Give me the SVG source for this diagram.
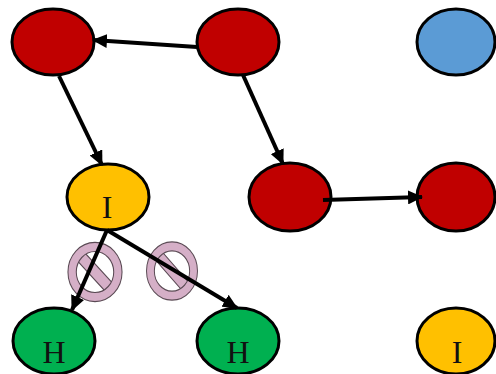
<svg xmlns="http://www.w3.org/2000/svg" xmlns:xlink="http://www.w3.org/1999/xlink" width="496" height="374" viewBox="0 0 496 374">
<style>
.node{stroke:#000;stroke-width:3}
.red{fill:#c00000}
.blue{fill:#5b9bd5}
.yellow{fill:#ffc000}
.green{fill:#00b050}
.lbl{font-family:"Liberation Serif","Times New Roman",serif;font-size:32px;fill:#111;text-anchor:middle}
.edge{stroke:#000;stroke-width:4;fill:none;marker-end:url(#arr)}
.no{fill:#d5afc7;stroke:#5a4a54;stroke-width:1}
</style>
<defs>
<marker id="arr" markerUnits="userSpaceOnUse" markerWidth="15" markerHeight="14" refX="14" refY="7" orient="auto">
<path d="M0,0 L15,7 L0,14 Z" fill="#000"/>
</marker>
<g id="nosign">
<rect class="no" x="-20" y="-5" width="40" height="10" transform="rotate(45)"/>
<path class="no" fill-rule="evenodd" d="M-26,0a26,26 0 1,0 52,0a26,26 0 1,0 -52,0Z M-18,0a18,18 0 1,0 36,0a18,18 0 1,0 -36,0Z"/>
</g>
</defs>
<rect width="496" height="374" fill="#fff"/>
<g id="n-red-tl"><ellipse class="node red" cx="53" cy="42" rx="41" ry="33"/></g>
<g id="n-red-tm"><ellipse class="node red" cx="238" cy="42" rx="41" ry="33"/></g>
<g id="n-blue"><ellipse class="node blue" cx="456" cy="42" rx="39" ry="33"/></g>
<g id="n-yellow-m"><ellipse class="node yellow" cx="108" cy="197" rx="41" ry="33"/><text class="lbl" x="107" y="218">I</text></g>
<g id="n-red-mm"><ellipse class="node red" cx="290" cy="197" rx="41" ry="34"/></g>
<g id="n-red-mr"><ellipse class="node red" cx="456" cy="197" rx="39" ry="34"/></g>
<g id="n-green-l"><ellipse class="node green" cx="54" cy="341" rx="41" ry="33"/><text class="lbl" x="54" y="363">H</text></g>
<g id="n-green-r"><ellipse class="node green" cx="238" cy="341" rx="41" ry="33"/><text class="lbl" x="238" y="363">H</text></g>
<g id="n-yellow-br"><ellipse class="node yellow" cx="456" cy="341" rx="39" ry="33"/><text class="lbl" x="457" y="363">I</text></g>
<g id="blocks">
<use xlink:href="#nosign" transform="translate(95,272) scale(1.04,1.14)"/>
<use xlink:href="#nosign" transform="translate(172,271) scale(0.98,1.12)"/>
</g>
<g id="connectors">
<line class="edge" x1="197" y1="47" x2="93" y2="40"/>
<line class="edge" x1="59" y1="76" x2="102" y2="165"/>
<line class="edge" x1="243" y1="75" x2="283" y2="164"/>
<line class="edge" x1="323" y1="200" x2="422" y2="197"/>
<line class="edge" x1="107" y1="230" x2="72" y2="310"/>
<line class="edge" x1="107" y1="230" x2="237" y2="308"/>
</g>
</svg>
